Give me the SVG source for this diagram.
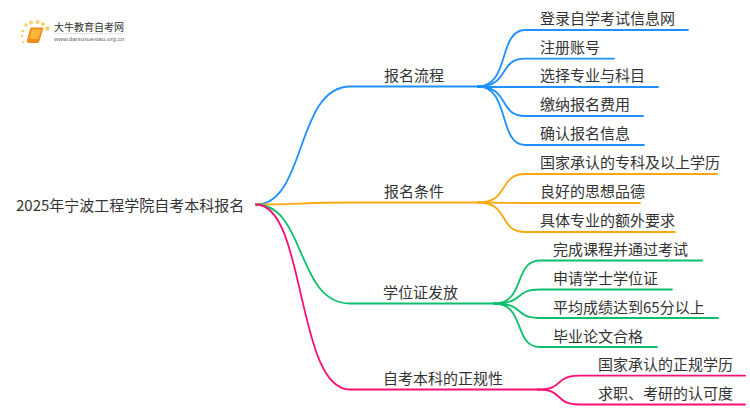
<svg xmlns="http://www.w3.org/2000/svg" width="750" height="410" viewBox="0 0 750 410">
<style>
text{font-family:"Noto Sans CJK SC","Noto Sans",sans-serif;font-size:15px;fill:#333}
.c{fill:none;stroke-width:1.8;stroke-linecap:round}
.b{stroke:#1e90ff}.o{stroke:#f9a80f}.g{stroke:#0bbf6b}.p{stroke:#fb0f76}
.d{fill:#f9d06a}
</style>
<rect width="750" height="410" fill="#fff"/>
<g id="connectors">
<path class="c b" d="M256 204.500C306 204.500 296 86.500 350 86.500H478"/>
<path class="c o" d="M256 204.500C290 204.500 310 202.500 350 202.500H478"/>
<path class="c g" d="M256 204.500C306 204.500 296 303.500 350 303.500H494"/>
<path class="c p" d="M256 204.500C306 204.500 296 389.500 350 389.500H538"/>
<path class="c b" d="M478 86.500C510 86.500 498 30 525 30H688"/>
<path class="c b" d="M478 86.500C510 86.500 498 58.700 525 58.700H614"/>
<path class="c b" d="M478 87H658"/>
<path class="c b" d="M478 86.500C510 86.500 498 116 525 116H643"/>
<path class="c b" d="M478 86.500C510 86.500 498 145 525 145H644"/>
<path class="c o" d="M478 202.500C510 202.500 498 174 525 174H717"/>
<path class="c o" d="M478 202.500L525 203H640"/>
<path class="c o" d="M478 202.500C510 202.500 498 232 525 232H675"/>
<path class="c g" d="M494 303.500C526 303.500 513 260.500 540 260.500H702"/>
<path class="c g" d="M494 303.500C526 303.500 513 289.500 540 289.500H672"/>
<path class="c g" d="M494 303.500C526 303.500 513 318 540 318H718"/>
<path class="c g" d="M494 303.500C526 303.500 513 347 540 347H657"/>
<path class="c p" d="M538 389.500C565 389.500 553 375.700 580 375.700H745"/>
<path class="c p" d="M538 389.500C565 389.500 553 404.500 580 404.500H745"/>
</g>
<g id="logo">
<circle class="d" cx="23" cy="42" r="1.200"/><circle class="d" cx="22" cy="36" r="1.300"/><circle class="d" cx="23" cy="31" r="1.500"/><circle class="d" cx="26" cy="25" r="1.800"/><circle class="d" cx="31" cy="22.500" r="2"/><circle class="d" cx="37.500" cy="22" r="2"/><circle class="d" cx="43" cy="24" r="2"/><circle class="d" cx="47.500" cy="28.500" r="2.200"/>
<path d="M30.500 27.500H43.500L39.500 41C39 42.500 38 43 37 43H29C27.500 43 26.500 41.500 27 40Z" fill="#f08c12"/><path d="M32 29.500H41.500L38 39H29.500Z" fill="#fbb53d"/>
<text x="54" y="31" style="font-size:10px">大牛教育自考网</text>
<rect x="54" y="33.500" width="68" height="0.600" fill="#ccc"/>
<text x="54" y="41" style="font-size:6.200px;font-family:'Liberation Sans',sans-serif;fill:#666">www.daniuxuexiao.org.cn</text>
</g>
<g id="root"><text x="16" y="211">2025年宁波工程学院自考本科报名</text></g>
<g id="n1"><text x="384" y="81">报名流程</text></g>
<g id="n1a"><text x="540" y="23.500">登录自学考试信息网</text></g>
<g id="n1b"><text x="540" y="52.500">注册账号</text></g>
<g id="n1c"><text x="540" y="81">选择专业与科目</text></g>
<g id="n1d"><text x="540" y="110">缴纳报名费用</text></g>
<g id="n1e"><text x="540" y="139">确认报名信息</text></g>
<g id="n2"><text x="384" y="197">报名条件</text></g>
<g id="n2a"><text x="540" y="168">国家承认的专科及以上学历</text></g>
<g id="n2b"><text x="540" y="197">良好的思想品德</text></g>
<g id="n2c"><text x="540" y="226">具体专业的额外要求</text></g>
<g id="n3"><text x="383" y="298">学位证发放</text></g>
<g id="n3a"><text x="553" y="255">完成课程并通过考试</text></g>
<g id="n3b"><text x="553" y="284">申请学士学位证</text></g>
<g id="n3c"><text x="553" y="313">平均成绩达到65分以上</text></g>
<g id="n3d"><text x="553" y="342">毕业论文合格</text></g>
<g id="n4"><text x="383" y="384">自考本科的正规性</text></g>
<g id="n4a"><text x="598" y="370">国家承认的正规学历</text></g>
<g id="n4b"><text x="598" y="399">求职、考研的认可度</text></g>
</svg>
